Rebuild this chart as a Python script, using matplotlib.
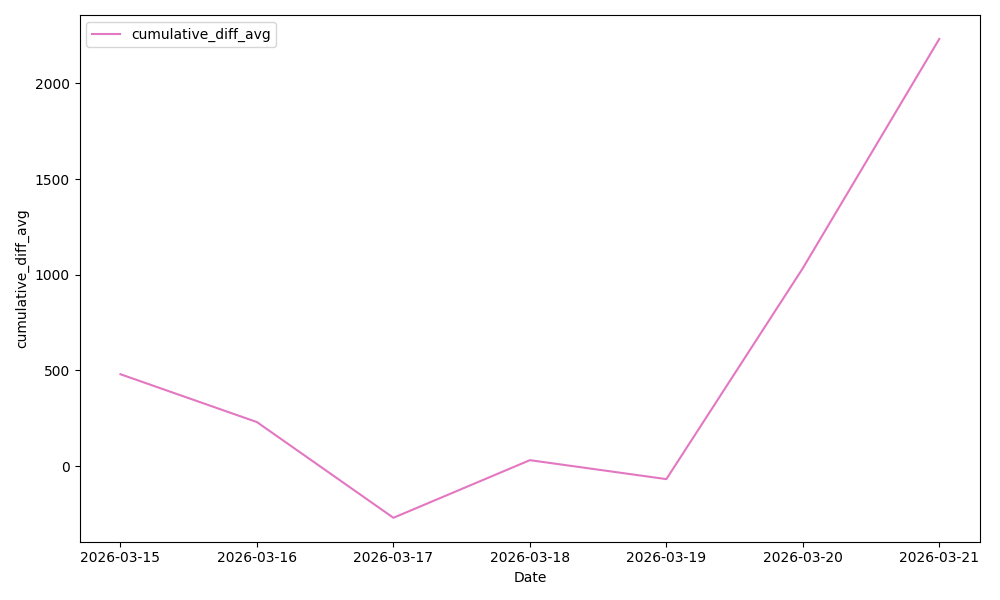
import pandas as pd
import matplotlib
matplotlib.use("Agg")
import matplotlib.pyplot as plt

dates = ["2026-03-15", "2026-03-16", "2026-03-17", "2026-03-18",
         "2026-03-19", "2026-03-20", "2026-03-21"]
cumulative_diff_avg = [480, 230, -270, 31, -68, 1034, 2232]

df = pd.DataFrame({"Date": pd.to_datetime(dates), "cumulative_diff_avg": cumulative_diff_avg})

fig, ax = plt.subplots(figsize=(10, 6), dpi=100)
ax.plot(df["Date"], df["cumulative_diff_avg"], color="#e377c2", label="cumulative_diff_avg")
ax.set_xticks(df["Date"])
ax.set_xticklabels(dates)
ax.set_xlabel("Date")
ax.set_ylabel("cumulative_diff_avg")
ax.legend(loc="upper left")
plt.tight_layout()
plt.savefig("out.png")
